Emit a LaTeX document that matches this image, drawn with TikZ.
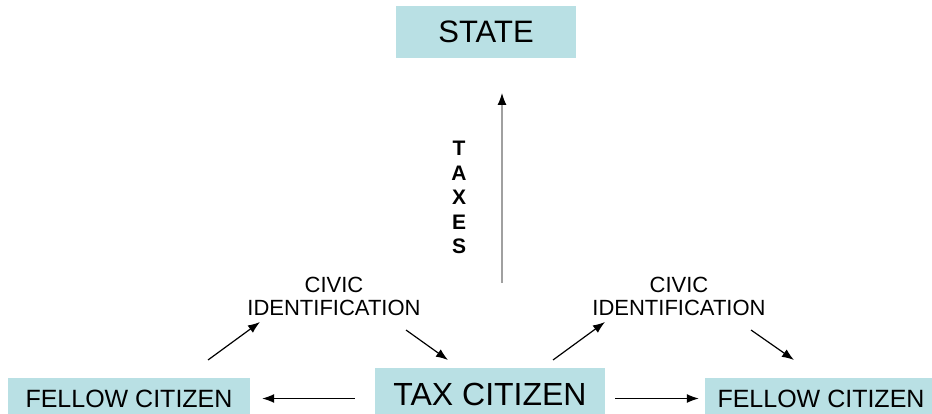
\documentclass[tikz,border=0pt]{standalone}
\usepackage{fontspec}
\setmainfont{Liberation Sans}
\usetikzlibrary{positioning, arrows.meta}

\definecolor{boxblue}{RGB}{185,224,228}
\definecolor{linegray}{RGB}{160,160,160}

\begin{document}
\begin{tikzpicture}[x=1pt, y=-1pt,
        box/.style={fill=boxblue, inner sep=0pt, anchor=center},
        flow/.style={line width=1.2pt, -{Latex[length=12pt,width=9pt]}},
        civic/.style={align=center, inner sep=0pt, font=\fontsize{22}{23}\selectfont}]

        \clip (0,0) rectangle (932,414);

        \node[box, minimum width=180pt, minimum height=52pt, font=\fontsize{31}{31}\selectfont] (state) at (486, 32) {STATE};
        \node[box, minimum width=230pt, minimum height=53pt, font=\fontsize{32}{32}\selectfont] (tax) at (490, 394.5) {TAX CITIZEN};
        \node[box, minimum width=242pt, minimum height=41pt, font=\fontsize{25}{25}\selectfont] (fellowL) at (129, 398.5) {FELLOW CITIZEN};
        \node[box, minimum width=232pt, minimum height=41pt, font=\fontsize{25}{25}\selectfont] (fellowR) at (821, 398.5) {FELLOW CITIZEN};

        \node[civic] (civicL) at (334, 296) {CIVIC\\IDENTIFICATION};
        \node[civic] (civicR) at (679, 296) {CIVIC\\IDENTIFICATION};

        \node[align=center, inner sep=0pt, font=\fontsize{21}{24.5}\selectfont\bfseries] (taxes) at (459, 197.5) {T\\A\\X\\E\\S};

        % Steuern nach oben
        \coordinate (taxtop) at (502, 283);
        \coordinate (statebot) at (502, 93);
        \draw[flow, draw=linegray, -{Latex[length=12pt,width=9pt,color=black]}] (taxtop) -- (statebot);

        % Pfeile zu den Mitbuergern
        \draw[flow, shorten <=20pt, shorten >=12pt] (tax.west |- fellowL) -- (fellowL.east);
        \draw[flow, shorten <=10pt, shorten >=6pt] (tax.east |- fellowR) -- (fellowR.west);

        % Pfeile links
        \coordinate (l1) at (208, 360);
        \coordinate (l2) at (260, 322);
        \coordinate (l3) at (406, 330);
        \coordinate (l4) at (448, 360);
        \draw[flow] (l1) -- (l2);
        \draw[flow] (l3) -- (l4);

        % Pfeile rechts
        \coordinate (r1) at (553, 360);
        \coordinate (r2) at (605, 322);
        \coordinate (r3) at (751, 330);
        \coordinate (r4) at (794, 360);
        \draw[flow] (r1) -- (r2);
        \draw[flow] (r3) -- (r4);

    \end{tikzpicture}
\end{document}
